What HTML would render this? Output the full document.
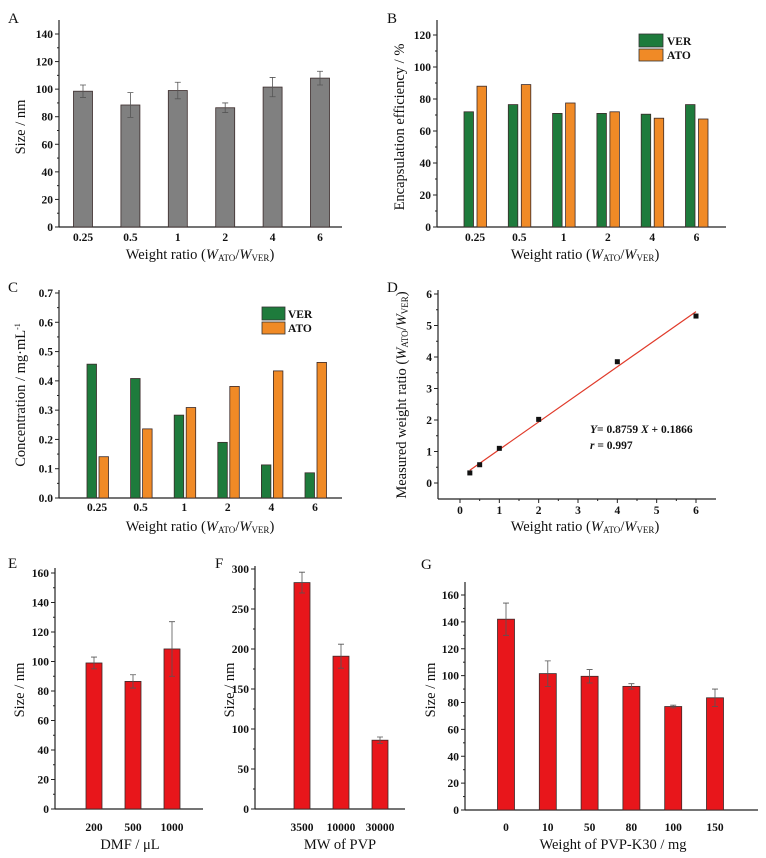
<!DOCTYPE html>
<html><head><meta charset="utf-8"><style>
html,body{margin:0;padding:0;background:#fff;}
svg{display:block;font-family:"Liberation Serif",serif;}
.tk{font-size:11.5px;font-weight:bold;fill:#111;}
.tt{font-size:14.5px;fill:#111;}
.pl{font-size:15px;fill:#111;}
</style></head><body>
<svg id="fig" width="766" height="858" viewBox="0 0 766 858" xmlns="http://www.w3.org/2000/svg"></svg>
<script>
const ratioCats = ["0.25","0.5","1","2","4","6"];
const sizeA = [98.5,88.5,99,86.5,101.5,108];
const errA = [4.5,9,6,3.5,7,5];
const eeVER = [72,76.5,71,71,70.5,76.5];
const eeATO = [88,89,77.5,72,68,67.5];
const concVER = [0.457,0.408,0.283,0.19,0.113,0.086];
const concATO = [0.141,0.236,0.309,0.381,0.434,0.463];
const dX = [0.25,0.5,1,2,4,6];
const dY = [0.32,0.58,1.1,2.02,3.85,5.3];
const fitSlope = 0.8759, fitIntercept = 0.1866;
const dmfCats = ["200","500","1000"];
const sizeE = [99,86.5,108.5];
const errE = [4,4.5,18.5];
const mwCats = ["3500","10000","30000"];
const sizeF = [283,191,86];
const errF = [13,15,4];
const pvpCats = ["0","10","50","80","100","150"];
const sizeG = [142,101.5,99.5,92,77,83.5];
const errG = [12,9.5,5,2,1,6.5];
const ticksA = [0,20,40,60,80,100,120,140];
const ticksB = [0,20,40,60,80,100,120];
const ticksC = [0,0.1,0.2,0.3,0.4,0.5,0.6,0.7];
const ticksD = [0,1,2,3,4,5,6];
const ticksE = [0,20,40,60,80,100,120,140,160];
const ticksF = [0,50,100,150,200,250,300];
const ticksG = [0,20,40,60,80,100,120,140,160];

const NS="http://www.w3.org/2000/svg";
const svg=document.getElementById('fig');
function el(tag,attrs,parent,text){const e=document.createElementNS(NS,tag);for(const k in attrs)e.setAttribute(k,attrs[k]);if(text!==undefined)e.textContent=text;(parent||svg).appendChild(e);return e;}
function lin(d0,d1,r0,r1){return v=>r0+(v-d0)/(d1-d0)*(r1-r0);}

function axes(g,o){
  const a=el('line',{x1:o.x0,y1:o.yTop,x2:o.x0,y2:o.y0,stroke:'#222','stroke-width':1.2},g);
  
  const b=el('line',{x1:o.x0,y1:o.y0,x2:o.x1,y2:o.y0,stroke:'#222','stroke-width':1.2},g);
  
  o.ticks.forEach((t,i)=>{
    const y=o.ys(t);
    el('line',{x1:o.x0-4,y1:y,x2:o.x0,y2:y,stroke:'#222'},g);
    const lb=el('text',{x:o.x0-6,y:y+4,'text-anchor':'end',class:'tk'},g,o.fmt(t));
    
    if(i<o.ticks.length-1){const ym=o.ys((t+o.ticks[i+1])/2);el('line',{x1:o.x0-2,y1:ym,x2:o.x0,y2:ym,stroke:'#222'},g);}
  });
}
function xlab(g,x,y,t){const e=el('text',{x:x,y:y,'text-anchor':'middle',class:'tk'},g,t);}
function ytitle(g,x,y,t){const e=el('text',{x:x,y:y,'text-anchor':'middle',class:'tt',transform:`rotate(-90 ${x} ${y})`},g);e.innerHTML=t;return e;}
function xtitle(g,x,y,t){const e=el('text',{x:x,y:y,'text-anchor':'middle',class:'tt'},g);e.innerHTML=t;}
function plabel(g,x,y,t){const e=el('text',{x:x,y:y,class:'pl'},g,t);}
function bar(g,x,w,ys,v,fill,name){const y=ys(v),y0=ys(0);const r=el('rect',{x:x,y:y,width:w,height:y0-y,fill:fill,stroke:'#3a2a2a','stroke-width':0.8},g);}
function err(g,cx,ys,v,e){const a=ys(v+e),b=ys(v-e);const p=el('path',{d:`M${cx},${a}V${b}M${cx-3},${a}H${cx+3}M${cx-3},${b}H${cx+3}`,stroke:'#555','stroke-width':0.8,fill:'none'},g);}
const wRatio='Weight ratio (<tspan font-style="italic">W</tspan><tspan font-size="9" dy="2">ATO</tspan><tspan dy="-2">/</tspan><tspan font-style="italic">W</tspan><tspan font-size="9" dy="2">VER</tspan><tspan dy="-2">)</tspan>';

(function(){
  const g=el('g',{});
  const ys=lin(0,140,227,34);
  axes(g,{x0:59,x1:342,yTop:20,y0:227,ys:ys,ticks:ticksA,fmt:t=>t});
  const xc=i=>83+i*47.4;
  ratioCats.forEach((c,i)=>{bar(g,xc(i)-9.5,19,ys,sizeA[i],'#808080','bar-'+c);err(g,xc(i),ys,sizeA[i],errA[i]);xlab(g,xc(i),241,c);});
  ytitle(g,25,127,'Size / nm');xtitle(g,200,259,wRatio);plabel(g,8,23,'A');
})();
(function(){
  const g=el('g',{});
  const ys=lin(0,120,227,35);
  axes(g,{x0:437,x1:726,yTop:20,y0:227,ys:ys,ticks:ticksB,fmt:t=>t});
  const xc=i=>475+i*44.3;
  ratioCats.forEach((c,i)=>{bar(g,xc(i)-11,9.5,ys,eeVER[i],'#1e7b3c','bar-ver-'+c);bar(g,xc(i)+2,9.5,ys,eeATO[i],'#f08a26','bar-ato-'+c);xlab(g,xc(i),241,c);});
  let r=el('rect',{x:639,y:34,width:24,height:13,fill:'#1e7b3c',stroke:'#333','stroke-width':0.8},g);
  r=el('rect',{x:639,y:49,width:24,height:12,fill:'#f08a26',stroke:'#333','stroke-width':0.8},g);
  let t=el('text',{x:667,y:45,class:'tk'},g,'VER');
  t=el('text',{x:667,y:59,class:'tk'},g,'ATO');
  ytitle(g,404,127,'Encapsulation efficiency / %');xtitle(g,585,259,wRatio);plabel(g,387,23,'B');
})();
(function(){
  const g=el('g',{});
  const ys=lin(0,0.7,498,293);
  axes(g,{x0:59,x1:342,yTop:290,y0:498,ys:ys,ticks:ticksC,fmt:t=>t.toFixed(1)});
  const xc=i=>97+i*43.6;
  ratioCats.forEach((c,i)=>{bar(g,xc(i)-10,9.5,ys,concVER[i],'#1e7b3c','bar-ver-'+c);bar(g,xc(i)+2,9.5,ys,concATO[i],'#f08a26','bar-ato-'+c);xlab(g,xc(i),511,c);});
  let r=el('rect',{x:262,y:307,width:23,height:13,fill:'#1e7b3c',stroke:'#333','stroke-width':0.8},g);
  r=el('rect',{x:262,y:322,width:23,height:12,fill:'#f08a26',stroke:'#333','stroke-width':0.8},g);
  let t=el('text',{x:288,y:318,class:'tk'},g,'VER');
  t=el('text',{x:288,y:332,class:'tk'},g,'ATO');
  ytitle(g,25,395,'Concentration / mg·mL<tspan font-size="8" dy="-5">-1</tspan>');xtitle(g,200,531,wRatio);plabel(g,8,292,'C');
})();
(function(){
  const g=el('g',{});
  const ys=lin(0,6,483,294), xs=lin(0,6,460,696);
  axes(g,{x0:438,x1:716,yTop:290,y0:499,ys:ys,ticks:ticksD,fmt:t=>t});
  ticksD.forEach((t,i)=>{const x=xs(t);el('line',{x1:x,y1:499,x2:x,y2:503,stroke:'#222'},g);if(i<ticksD.length-1){el('line',{x1:xs(t+0.5),y1:499,x2:xs(t+0.5),y2:501,stroke:'#222'},g);}xlab(g,x,514,String(t));});
  const x1=dX[0],x2=dX[dX.length-1];
  const ln=el('line',{x1:xs(x1),y1:ys(fitSlope*x1+fitIntercept),x2:xs(x2),y2:ys(fitSlope*x2+fitIntercept),stroke:'#e03a2a','stroke-width':1.2},g);
  
  dX.forEach((x,i)=>{const p=el('rect',{x:xs(x)-2.5,y:ys(dY[i])-2.5,width:5,height:5,fill:'#111'},g);});
  let t=el('text',{x:590,y:433,class:'tk','font-size':'12'},g);t.innerHTML='<tspan font-style="italic">Y</tspan>= 0.8759 <tspan font-style="italic">X</tspan> + 0.1866';
  t=el('text',{x:590,y:449,class:'tk'},g);t.innerHTML='<tspan font-style="italic">r</tspan> = 0.997';
  ytitle(g,406,395,'Measured weight ratio (<tspan font-style="italic">W</tspan><tspan font-size="9" dy="2">ATO</tspan><tspan dy="-2">/</tspan><tspan font-style="italic">W</tspan><tspan font-size="9" dy="2">VER</tspan><tspan dy="-2">)</tspan>');
  xtitle(g,585,531,wRatio);plabel(g,387,292,'D');
})();
(function(){
  const g=el('g',{});
  const ys=lin(0,160,809,573);
  axes(g,{x0:55,x1:203,yTop:568,y0:809,ys:ys,ticks:ticksE,fmt:t=>t});
  const xc=i=>94+i*39;
  dmfCats.forEach((c,i)=>{bar(g,xc(i)-8,16,ys,sizeE[i],'#e8161b','bar-'+c);err(g,xc(i),ys,sizeE[i],errE[i]);xlab(g,xc(i),831,c);});
  ytitle(g,24,690,'Size / nm');xtitle(g,130,849,'DMF / μL');plabel(g,8,568,'E');
})();
(function(){
  const g=el('g',{});
  const ys=lin(0,300,809,569);
  axes(g,{x0:255,x1:405,yTop:566,y0:809,ys:ys,ticks:ticksF,fmt:t=>t});
  const xc=i=>302+i*39;
  mwCats.forEach((c,i)=>{bar(g,xc(i)-8,16,ys,sizeF[i],'#e8161b','bar-'+c);err(g,xc(i),ys,sizeF[i],errF[i]);xlab(g,xc(i),831,c);});
  ytitle(g,234,690,'Size / nm');xtitle(g,340,849,'MW of PVP');plabel(g,215,568,'F');
})();
(function(){
  const g=el('g',{});
  const ys=lin(0,160,810,595);
  axes(g,{x0:465,x1:758,yTop:582,y0:810,ys:ys,ticks:ticksG,fmt:t=>t});
  const xc=i=>506+i*41.8;
  pvpCats.forEach((c,i)=>{bar(g,xc(i)-8.5,17,ys,sizeG[i],'#e8161b','bar-'+c);err(g,xc(i),ys,sizeG[i],errG[i]);xlab(g,xc(i),831,c);});
  ytitle(g,435,690,'Size / nm');xtitle(g,613,849,'Weight of PVP-K30 / mg');plabel(g,421,569,'G');
})();
</script>
</body></html>
